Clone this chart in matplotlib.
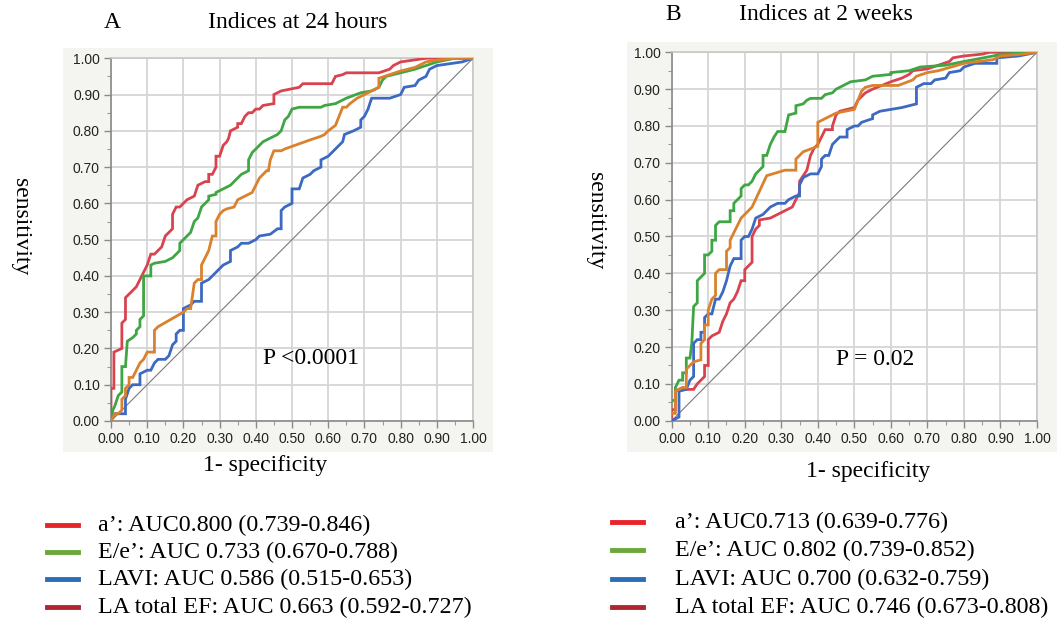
import matplotlib.pyplot as plt
from matplotlib.patches import Rectangle
from matplotlib.lines import Line2D
from matplotlib.ticker import MultipleLocator, FormatStrFormatter

plt.rcParams['font.family'] = ['Liberation Sans', 'DejaVu Sans']
SERIF = ['Liberation Serif', 'DejaVu Serif']

# ---- Panel A: indices at 24 hours (1 - specificity, sensitivity) ----
a24_fpr = [0, 0, 0.008, 0.008, 0.03, 0.03, 0.04, 0.04, 0.07, 0.08, 0.09, 0.10, 0.11, 0.12, 0.14,
           0.15, 0.16, 0.17, 0.17, 0.18, 0.19, 0.20, 0.21, 0.23, 0.24, 0.26, 0.27, 0.27, 0.28, 0.29,
           0.29, 0.30, 0.31, 0.32, 0.325, 0.33, 0.35, 0.35, 0.36, 0.37, 0.38, 0.39, 0.40, 0.41, 0.42,
           0.45, 0.45, 0.47, 0.52, 0.53, 0.61, 0.62, 0.64, 0.65, 0.74, 0.77, 0.78, 0.80, 0.87, 1.0]
a24_tpr = [0, 0.09, 0.09, 0.19, 0.20, 0.27, 0.28, 0.34, 0.37, 0.39, 0.41, 0.43, 0.46, 0.46, 0.48,
           0.51, 0.52, 0.53, 0.57, 0.59, 0.59, 0.60, 0.61, 0.62, 0.65, 0.66, 0.66, 0.68, 0.68, 0.70,
           0.73, 0.73, 0.76, 0.77, 0.78, 0.80, 0.81, 0.82, 0.82, 0.84, 0.85, 0.85, 0.86, 0.86, 0.87,
           0.875, 0.90, 0.91, 0.92, 0.93, 0.93, 0.95, 0.955, 0.96, 0.96, 0.97, 0.98, 0.99, 1.0, 1.0]

ee24_fpr = [0, 0.005, 0.01, 0.02, 0.03, 0.03, 0.04, 0.045, 0.06, 0.07, 0.07, 0.08, 0.08, 0.09, 0.09,
            0.11, 0.11, 0.12, 0.15, 0.17, 0.18, 0.19, 0.19, 0.20, 0.21, 0.22, 0.23, 0.24, 0.25, 0.26,
            0.27, 0.27, 0.29, 0.29, 0.31, 0.33, 0.34, 0.35, 0.36, 0.38, 0.38, 0.39, 0.40, 0.41, 0.42,
            0.44, 0.46, 0.47, 0.48, 0.49, 0.50, 0.52, 0.58, 0.59, 0.62, 0.63, 0.65, 0.69, 0.72, 0.74,
            0.75, 0.76, 0.80, 0.84, 0.87, 0.90, 0.95, 1.0]
ee24_tpr = [0, 0.03, 0.04, 0.07, 0.08, 0.15, 0.15, 0.22, 0.23, 0.24, 0.25, 0.26, 0.28, 0.29, 0.40,
            0.40, 0.43, 0.435, 0.44, 0.45, 0.46, 0.47, 0.49, 0.50, 0.51, 0.52, 0.55, 0.56, 0.59, 0.60,
            0.61, 0.62, 0.625, 0.63, 0.64, 0.65, 0.66, 0.67, 0.68, 0.69, 0.72, 0.74, 0.75, 0.76, 0.77,
            0.78, 0.79, 0.80, 0.83, 0.84, 0.86, 0.865, 0.865, 0.87, 0.875, 0.88, 0.89, 0.905, 0.91, 0.92,
            0.94, 0.95, 0.96, 0.97, 0.98, 0.99, 1.0, 1.0]

lavi24_fpr = [0, 0.01, 0.04, 0.04, 0.05, 0.06, 0.08, 0.08, 0.10, 0.11, 0.12, 0.13, 0.15, 0.16, 0.17,
              0.18, 0.18, 0.19, 0.20, 0.20, 0.22, 0.23, 0.25, 0.25, 0.27, 0.28, 0.29, 0.30, 0.31, 0.33,
              0.33, 0.35, 0.36, 0.38, 0.40, 0.41, 0.44, 0.46, 0.47, 0.47, 0.48, 0.50, 0.50, 0.52, 0.53,
              0.55, 0.56, 0.58, 0.58, 0.60, 0.61, 0.63, 0.64, 0.645, 0.67, 0.69, 0.69, 0.70, 0.71, 0.72,
              0.77, 0.80, 0.81, 0.84, 0.85, 0.87, 0.88, 0.90, 0.97, 1.0]
lavi24_tpr = [0, 0.02, 0.02, 0.06, 0.09, 0.10, 0.10, 0.13, 0.14, 0.14, 0.16, 0.17, 0.17, 0.18, 0.21,
              0.22, 0.24, 0.25, 0.25, 0.31, 0.32, 0.33, 0.33, 0.38, 0.39, 0.40, 0.41, 0.42, 0.43, 0.44,
              0.47, 0.48, 0.49, 0.49, 0.50, 0.51, 0.515, 0.53, 0.53, 0.58, 0.59, 0.60, 0.64, 0.64, 0.67,
              0.68, 0.69, 0.70, 0.72, 0.73, 0.74, 0.76, 0.77, 0.79, 0.80, 0.81, 0.83, 0.84, 0.86, 0.89,
              0.89, 0.90, 0.92, 0.925, 0.94, 0.95, 0.97, 0.98, 0.99, 1.0]

laef24_fpr = [0, 0.01, 0.02, 0.03, 0.03, 0.04, 0.04, 0.05, 0.05, 0.06, 0.07, 0.08, 0.09, 0.10, 0.12,
              0.12, 0.13, 0.20, 0.21, 0.22, 0.23, 0.24, 0.25, 0.25, 0.27, 0.28, 0.29, 0.29, 0.30, 0.31,
              0.32, 0.34, 0.35, 0.37, 0.39, 0.40, 0.41, 0.43, 0.435, 0.44, 0.45, 0.47, 0.48, 0.55, 0.58,
              0.59, 0.60, 0.62, 0.63, 0.64, 0.65, 0.66, 0.68, 0.70, 0.72, 0.74, 0.74, 0.77, 0.80, 0.84,
              0.86, 0.87, 0.90, 0.95, 1.0]
laef24_tpr = [0, 0.02, 0.02, 0.03, 0.06, 0.07, 0.09, 0.10, 0.12, 0.12, 0.14, 0.16, 0.17, 0.19, 0.19,
              0.25, 0.26, 0.30, 0.31, 0.31, 0.38, 0.39, 0.39, 0.43, 0.47, 0.51, 0.51, 0.55, 0.57, 0.58,
              0.585, 0.59, 0.61, 0.62, 0.63, 0.65, 0.67, 0.69, 0.69, 0.72, 0.745, 0.745, 0.75, 0.775, 0.785,
              0.79, 0.80, 0.815, 0.84, 0.865, 0.865, 0.875, 0.89, 0.90, 0.91, 0.92, 0.945, 0.955, 0.965, 0.975,
              0.985, 0.99, 0.995, 1.0, 1.0]

# ---- Panel B: indices at 2 weeks ----
a2w_fpr = [0, 0, 0.01, 0.01, 0.03, 0.04, 0.06, 0.07, 0.08, 0.09, 0.09, 0.10, 0.10, 0.11, 0.12,
           0.13, 0.14, 0.15, 0.16, 0.17, 0.18, 0.19, 0.20, 0.20, 0.21, 0.22, 0.22, 0.23, 0.24, 0.24,
           0.27, 0.29, 0.31, 0.33, 0.34, 0.35, 0.35, 0.37, 0.38, 0.39, 0.40, 0.41, 0.42, 0.44, 0.44,
           0.45, 0.46, 0.48, 0.50, 0.51, 0.52, 0.53, 0.55, 0.60, 0.63, 0.65, 0.66, 0.70, 0.73, 0.76,
           0.77, 0.80, 0.85, 0.87, 1.0]
a2w_tpr = [0, 0.03, 0.03, 0.08, 0.09, 0.085, 0.085, 0.10, 0.11, 0.12, 0.15, 0.15, 0.22, 0.23, 0.235,
           0.24, 0.27, 0.29, 0.32, 0.33, 0.35, 0.38, 0.38, 0.41, 0.42, 0.43, 0.50, 0.52, 0.53, 0.545,
           0.55, 0.56, 0.57, 0.58, 0.60, 0.62, 0.65, 0.68, 0.72, 0.74, 0.75, 0.77, 0.79, 0.79, 0.80,
           0.83, 0.84, 0.845, 0.85, 0.87, 0.88, 0.89, 0.90, 0.92, 0.93, 0.94, 0.95, 0.955, 0.965, 0.975,
           0.985, 0.99, 0.995, 1.0, 1.0]

ee2w_fpr = [0, 0.01, 0.01, 0.02, 0.03, 0.03, 0.04, 0.04, 0.05, 0.055, 0.06, 0.07, 0.07, 0.08, 0.09,
            0.09, 0.10, 0.11, 0.11, 0.12, 0.12, 0.13, 0.16, 0.16, 0.17, 0.17, 0.18, 0.19, 0.19, 0.20,
            0.21, 0.22, 0.23, 0.24, 0.25, 0.25, 0.26, 0.27, 0.28, 0.29, 0.31, 0.32, 0.34, 0.34, 0.36,
            0.37, 0.38, 0.41, 0.42, 0.44, 0.45, 0.47, 0.48, 0.49, 0.53, 0.55, 0.60, 0.60, 0.65, 0.68,
            0.75, 0.80, 0.88, 0.90, 1.0]
ee2w_tpr = [0.055, 0.055, 0.09, 0.11, 0.11, 0.13, 0.13, 0.17, 0.17, 0.21, 0.31, 0.32, 0.38, 0.39, 0.40,
            0.45, 0.45, 0.46, 0.49, 0.49, 0.53, 0.54, 0.54, 0.57, 0.57, 0.59, 0.60, 0.61, 0.63, 0.64,
            0.64, 0.65, 0.67, 0.68, 0.69, 0.72, 0.72, 0.75, 0.77, 0.785, 0.785, 0.83, 0.835, 0.855, 0.86,
            0.87, 0.875, 0.875, 0.885, 0.89, 0.90, 0.91, 0.915, 0.92, 0.925, 0.935, 0.94, 0.945, 0.95, 0.96,
            0.965, 0.975, 0.99, 0.995, 1.0]

lavi2w_fpr = [0, 0.02, 0.02, 0.04, 0.05, 0.06, 0.06, 0.07, 0.08, 0.08, 0.09, 0.09, 0.10, 0.11, 0.12,
              0.13, 0.14, 0.15, 0.16, 0.17, 0.19, 0.19, 0.20, 0.21, 0.22, 0.23, 0.25, 0.26, 0.27, 0.29,
              0.31, 0.32, 0.34, 0.35, 0.35, 0.36, 0.38, 0.40, 0.41, 0.41, 0.42, 0.43, 0.44, 0.45, 0.46,
              0.48, 0.48, 0.50, 0.51, 0.52, 0.55, 0.55, 0.57, 0.60, 0.63, 0.65, 0.67, 0.67, 0.69, 0.71,
              0.72, 0.75, 0.76, 0.79, 0.80, 0.83, 0.89, 0.89, 0.95, 1.0]
lavi2w_tpr = [0, 0.01, 0.08, 0.085, 0.11, 0.12, 0.21, 0.22, 0.22, 0.24, 0.24, 0.28, 0.29, 0.29, 0.33,
              0.33, 0.35, 0.38, 0.42, 0.44, 0.44, 0.49, 0.50, 0.50, 0.52, 0.55, 0.56, 0.57, 0.58, 0.59,
              0.59, 0.60, 0.61, 0.61, 0.64, 0.66, 0.67, 0.67, 0.69, 0.71, 0.72, 0.72, 0.75, 0.76, 0.77,
              0.77, 0.79, 0.80, 0.80, 0.81, 0.82, 0.83, 0.84, 0.845, 0.85, 0.855, 0.86, 0.905, 0.915, 0.915,
              0.925, 0.93, 0.945, 0.95, 0.96, 0.97, 0.97, 0.985, 0.99, 1.0]

laef2w_fpr = [0, 0.01, 0.01, 0.03, 0.04, 0.04, 0.05, 0.06, 0.08, 0.08, 0.09, 0.09, 0.10, 0.10, 0.11,
              0.12, 0.12, 0.13, 0.15, 0.15, 0.16, 0.16, 0.19, 0.20, 0.21, 0.22, 0.26, 0.31, 0.34, 0.34,
              0.36, 0.40, 0.40, 0.42, 0.44, 0.45, 0.50, 0.51, 0.52, 0.53, 0.55, 0.62, 0.66, 0.67, 0.70,
              0.73, 0.80, 0.84, 0.88, 0.90, 0.96, 1.0]
laef2w_tpr = [0.02, 0.02, 0.08, 0.09, 0.09, 0.14, 0.15, 0.16, 0.165, 0.21, 0.22, 0.26, 0.26, 0.30, 0.33,
              0.34, 0.40, 0.41, 0.41, 0.46, 0.47, 0.49, 0.55, 0.56, 0.57, 0.58, 0.665, 0.68, 0.68, 0.71,
              0.73, 0.745, 0.81, 0.82, 0.83, 0.835, 0.845, 0.87, 0.895, 0.905, 0.91, 0.91, 0.925, 0.935, 0.945,
              0.95, 0.97, 0.975, 0.98, 0.99, 0.995, 1.0]

curve_colors = ['#d8434f', '#3fa644', '#3c69c2', '#d9812c']
legend_colors = ['#e8242b', '#6aa83c', '#2a6db8', '#b1262d']

labels_24h = ["a\u2019: AUC0.800 (0.739-0.846)",
              "E/e\u2019: AUC 0.733 (0.670-0.788)",
              "LAVI: AUC 0.586 (0.515-0.653)",
              "LA total EF: AUC 0.663 (0.592-0.727)"]
labels_2w = ["a\u2019: AUC0.713 (0.639-0.776)",
             "E/e\u2019: AUC 0.802 (0.739-0.852)",
             "LAVI: AUC 0.700 (0.632-0.759)",
             "LA total EF: AUC 0.746 (0.673-0.808)"]

W, H = 1057, 625
fig = plt.figure(figsize=(W / 100, H / 100), dpi=100)


def fx(px):
    return px / W


def fy(py):
    return 1 - py / H


def panel(rect, bg, curves, ptext, pxy):
    # light grey frame behind plot + tick labels
    fig.add_artist(Rectangle((fx(bg[0]), fy(bg[3])), fx(bg[2] - bg[0]), (bg[3] - bg[1]) / H,
                             transform=fig.transFigure, facecolor='#f4f4f0', edgecolor='none', zorder=-1))
    ax = fig.add_axes([fx(rect[0]), fy(rect[3]), fx(rect[2] - rect[0]), (rect[3] - rect[1]) / H])
    ax.set_facecolor('white')
    ax.set_xlim(0, 1)
    ax.set_ylim(0, 1)
    ax.xaxis.set_major_locator(MultipleLocator(0.1))
    ax.yaxis.set_major_locator(MultipleLocator(0.1))
    ax.xaxis.set_minor_locator(MultipleLocator(0.05))
    ax.yaxis.set_minor_locator(MultipleLocator(0.05))
    ax.xaxis.set_major_formatter(FormatStrFormatter('%.2f'))
    ax.yaxis.set_major_formatter(FormatStrFormatter('%.2f'))
    ax.grid(True, which='major', color='#d6d6d6', lw=1.3)
    ax.set_axisbelow(True)
    ax.tick_params(which='major', direction='out', length=5, width=1, color='#8a8a8a',
                   labelsize=10, labelcolor='#222222', pad=3)
    ax.tick_params(which='minor', direction='out', length=3, width=0.8, color='#9a9a9a')
    for s in ax.spines.values():
        s.set_color('#c8c8c8')
        s.set_linewidth(1.2)
    ax.spines['left'].set_color('#8a8a8a')
    ax.spines['bottom'].set_color('#8a8a8a')
    ax.plot([0, 1], [0, 1], color='#7a7a7a', lw=0.8, zorder=2)
    for (xs, ys), c in zip(curves, curve_colors):
        ax.plot(xs, ys, color=c, lw=2.0, solid_joinstyle='miter', zorder=3)
    ax.text(pxy[0], pxy[1], ptext, fontsize=17, family=SERIF, va='center', ha='left', zorder=4)
    return ax


panel((111, 58.3, 473, 421), (63, 48, 493, 452),
      [(a24_fpr, a24_tpr), (ee24_fpr, ee24_tpr), (lavi24_fpr, lavi24_tpr), (laef24_fpr, laef24_tpr)],
      'P <0.0001', (0.42, 0.171))
panel((671.7, 52.3, 1037, 420.7), (627, 42, 1057, 452),
      [(a2w_fpr, a2w_tpr), (ee2w_fpr, ee2w_tpr), (lavi2w_fpr, lavi2w_tpr), (laef2w_fpr, laef2w_tpr)],
      'P = 0.02', (0.45, 0.167))

# titles and axis labels
fig.text(fx(112), fy(22), 'A', fontsize=17, family=SERIF, ha='center', va='center')
fig.text(fx(298), fy(22), 'Indices at 24 hours', fontsize=17, family=SERIF, ha='center', va='center')
fig.text(fx(673), fy(15), 'B', fontsize=17, family=SERIF, ha='center', va='center')
fig.text(fx(826), fy(15), 'Indices at 2 weeks', fontsize=17, family=SERIF, ha='center', va='center')
fig.text(fx(20), fy(227), 'sensitivity', fontsize=17, family=SERIF, rotation=-90, ha='center', va='center')
fig.text(fx(596), fy(221), 'sensitivity', fontsize=17, family=SERIF, rotation=-90, ha='center', va='center')
fig.text(fx(265), fy(466), '1- specificity', fontsize=17, family=SERIF, ha='center', va='center')
fig.text(fx(868), fy(472), '1- specificity', fontsize=17, family=SERIF, ha='center', va='center')

# legends below each panel
legend_rows_a = [525, 552, 579, 607]
legend_rows_b = [522, 550, 579, 607]
for y, lab, c in zip(legend_rows_a, labels_24h, legend_colors):
    fig.add_artist(Line2D([fx(47), fx(78)], [fy(y), fy(y)], transform=fig.transFigure, color=c, lw=3.5))
    fig.text(fx(98), fy(y), lab, fontsize=17.3, family=SERIF, ha='left', va='center')
for y, lab, c in zip(legend_rows_b, labels_2w, legend_colors):
    fig.add_artist(Line2D([fx(612), fx(643)], [fy(y), fy(y)], transform=fig.transFigure, color=c, lw=3.5))
    fig.text(fx(675), fy(y), lab, fontsize=17.3, family=SERIF, ha='left', va='center')

fig.savefig('out.png', dpi=100)
